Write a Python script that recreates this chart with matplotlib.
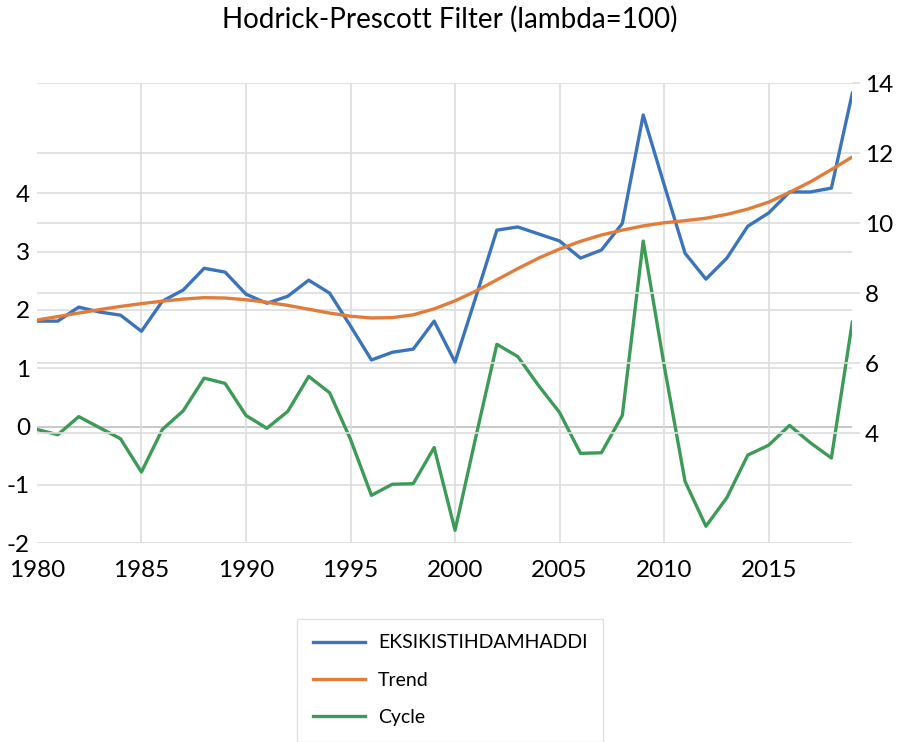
import numpy as np
import matplotlib
matplotlib.use("Agg")
import matplotlib.pyplot as plt

plt.rcParams['font.family'] = ['Lato', 'DejaVu Sans']

years = list(range(1980, 2020))

# EKSIKISTIHDAMHADDI (right axis)
series = [7.20, 7.20, 7.60, 7.46, 7.37, 6.91, 7.77, 8.09, 8.71, 8.60,
          7.97, 7.71, 7.91, 8.37, 8.00, 7.06, 6.09, 6.31, 6.40, 7.20,
          6.03, 7.90, 9.80, 9.89, 9.69, 9.49, 9.00, 9.23, 9.99, 13.09,
          11.10, 9.14, 8.40, 9.00, 9.91, 10.29, 10.89, 10.89, 11.00, 13.71]

# Trend (right axis)
trend = [7.23, 7.33, 7.43, 7.53, 7.62, 7.70, 7.77, 7.83, 7.87, 7.86,
         7.81, 7.74, 7.65, 7.54, 7.43, 7.34, 7.29, 7.30, 7.38, 7.55,
         7.78, 8.06, 8.38, 8.70, 9.00, 9.26, 9.48, 9.66, 9.80, 9.92,
         10.01, 10.07, 10.14, 10.25, 10.40, 10.60, 10.88, 11.18, 11.53, 11.89]

# Cycle (left axis)
cycle = [-0.05, -0.14, 0.17, -0.02, -0.21, -0.78, -0.05, 0.27, 0.83, 0.74,
         0.19, -0.03, 0.26, 0.86, 0.58, -0.22, -1.18, -0.99, -0.98, -0.36,
         -1.78, -0.17, 1.41, 1.20, 0.70, 0.24, -0.46, -0.45, 0.19, 3.18,
         1.05, -0.94, -1.71, -1.22, -0.49, -0.32, 0.02, -0.28, -0.54, 1.79]

left_ticks = [-2, -1, 0, 1, 2, 3, 4]
right_ticks = [4, 6, 8, 10, 12, 14]
x_ticks = [1980, 1985, 1990, 1995, 2000, 2005, 2010, 2015]

blue = "#3C74BC"
orange = "#E27C3A"
green = "#3D9B57"
grid = "#DDDDDD"

fig = plt.figure(figsize=(9, 7.42), dpi=100)
ax = fig.add_axes([0.041, 0.268, 0.906, 0.620])
ax2 = ax.twinx()

ax.set_xlim(1980, 2019)
ax.set_ylim(-2, 5.89)
ax2.set_ylim(0.857, 14)

# gridlines
for v in left_ticks:
    ax.axhline(v, color="#BFBFBF" if v == 0 else grid, lw=1.2, zorder=0)
for v in right_ticks:
    ax2.axhline(v, color=grid, lw=1.2, zorder=0)
for v in x_ticks[1:]:
    ax.axvline(v, color=grid, lw=1.2, zorder=0)

l3, = ax.plot(years, cycle, color=green, lw=2.4, zorder=3)
l1, = ax2.plot(years, series, color=blue, lw=2.4, zorder=3)
l2, = ax2.plot(years, trend, color=orange, lw=2.4, zorder=3)

for a in (ax, ax2):
    for s in a.spines.values():
        s.set_visible(False)

ax.set_yticks(left_ticks)
ax.set_yticklabels([str(v) for v in left_ticks], fontsize=17.5)
ax.tick_params(axis='y', length=0, pad=5)
ax.set_xticks(x_ticks)
ax.set_xticklabels([str(v) for v in x_ticks], fontsize=17.5)
ax.tick_params(axis='x', length=0, pad=12)

ax2.set_yticks(right_ticks)
ax2.set_yticklabels([str(v) for v in right_ticks], fontsize=17.5)
ax2.tick_params(axis='y', length=6, width=1.2, color=grid, pad=3)

fig.text(0.5, 0.992, "Hodrick-Prescott Filter (lambda=100)", ha='center',
         va='top', fontsize=20)

leg = fig.legend([l1, l2, l3], ["EKSIKISTIHDAMHADDI", "Trend", "Cycle"],
                 loc='upper left', bbox_to_anchor=(0.330, 0.166),
                 fontsize=14, frameon=True, fancybox=False,
                 handlelength=2.7, handletextpad=0.67, labelspacing=1.05,
                 borderpad=0.8, borderaxespad=0)
leg.get_frame().set_edgecolor("#D9D9D9")
leg.get_frame().set_linewidth(1.0)

fig.savefig("out.png", dpi=100)
